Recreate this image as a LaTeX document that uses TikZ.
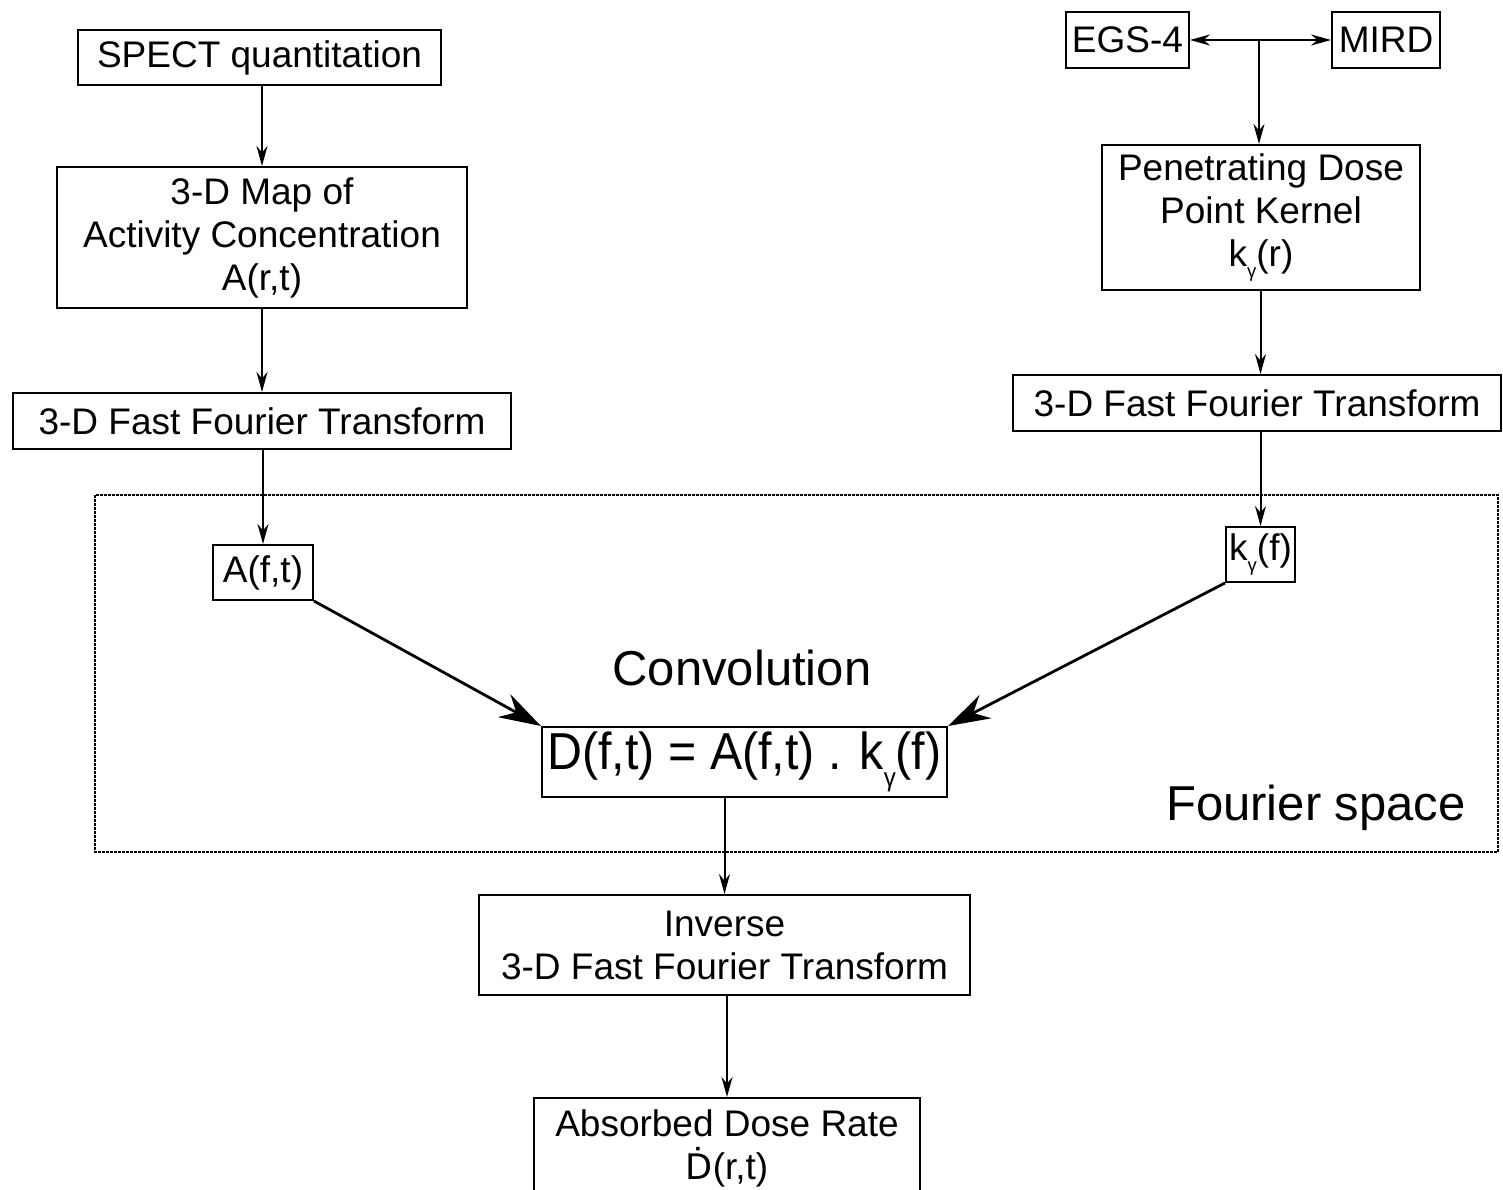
\documentclass[tikz,border=0pt]{standalone}
\usepackage{fontspec}
\usepackage{graphicx}
\setmainfont{Liberation Sans}
\newfontfamily\djv[Scale=0.95]{DejaVu Sans}
\usetikzlibrary{arrows.meta}
\tikzset{
  box/.style={draw, line width=2pt, inner sep=2pt, align=center,
    font=\fontsize{37}{43}\selectfont},
  arr/.style={line width=2pt, -{Stealth[length=20pt,width=11pt]}},
  bigarr/.style={line width=2.8pt, -{Stealth[length=42pt,width=26pt]}},
  fourier/.style={line width=2pt, dash pattern=on 3pt off 1pt},
}
\newcommand{\gsub}{\raisebox{-0.32em}{\scalebox{0.5}{γ}}}
\begin{document}
\begin{tikzpicture}[x=1pt,y=-1pt]
\clip (0,0) rectangle (1503,1190);
\fill[white] (0,0) rectangle (1503,1190);
% Fourier space frame
\draw[fourier] (95,495) rectangle (1498,852);
% left column
\node[box, minimum width=363pt, minimum height=55pt] (spect) at (259.5,57.5) {SPECT quantitation};
\node[box, minimum width=410pt, minimum height=141pt] (map) at (262,237.5) {3-D Map of\\Activity Concentration\\A(r,t)};
\node[box, minimum width=498pt, minimum height=56pt] (fftL) at (262,421) {3-D Fast Fourier Transform};
\node[box, minimum width=100pt, minimum height=55pt] (Af) at (263,572.5) {A(f,t)};
% right column
\node[box, minimum width=123pt, minimum height=56pt] (egs) at (1127.5,40) {EGS-4};
\node[box, minimum width=108pt, minimum height=56pt] (mird) at (1386,40) {MIRD};
\node[box, minimum width=318pt, minimum height=145pt] (pen) at (1261,217.5) {Penetrating Dose\\Point Kernel\\k\gsub(r)};
\node[box, minimum width=488pt, minimum height=56pt] (fftR) at (1257,403) {3-D Fast Fourier Transform};
\node[box, minimum width=69pt, minimum height=55pt, inner sep=1pt] (kf) at (1260.5,554.5) {k\gsub(f)};
% centre
\node[font=\fontsize{49}{56}\selectfont] (conv) at (742,668) {Convolution};
\node[box, minimum width=405pt, minimum height=70pt, inner sep=0pt, font=\fontsize{52}{58}\selectfont] (eq) at (744.5,762) {\scalebox{0.93}[1]{D(f,t) = A(f,t) . k\gsub(f)}};
\node[font=\fontsize{49}{56}\selectfont] (fs) at (1316,808) {Fourier space};
\node[box, minimum width=491pt, minimum height=100pt] (inv) at (724.5,945) {Inverse\\3-D Fast Fourier Transform};
\node[box, minimum width=386pt, minimum height=100pt, anchor=north] (abs) at (727,1097) {Absorbed Dose Rate\\{\djv Ḋ}(r,t)};
% connectors
\draw[arr] (spect.south -| map.north) -- (map.north);
\draw[arr] (map.south) -- (fftL.north);
\draw[arr] (fftL.south -| Af.north) -- (Af.north);
\coordinate (junc) at (1259,40);
\draw[arr] (junc) -- (egs.east);
\draw[arr] (junc) -- (mird.west);
\draw[arr] (junc) -- (junc |- pen.north);
\draw[arr] (pen.south -| kf.north) -- (kf.north |- fftR.north);
\draw[arr] (fftR.south -| kf.north) -- (kf.north);
\draw[bigarr] (Af.south east) -- (eq.north west);
\draw[bigarr] (kf.south west) -- (eq.north east);
\draw[arr] (eq.south -| inv.north) -- (inv.north);
\draw[arr] (inv.south -| abs.north) -- (abs.north);
\end{tikzpicture}
\end{document}
